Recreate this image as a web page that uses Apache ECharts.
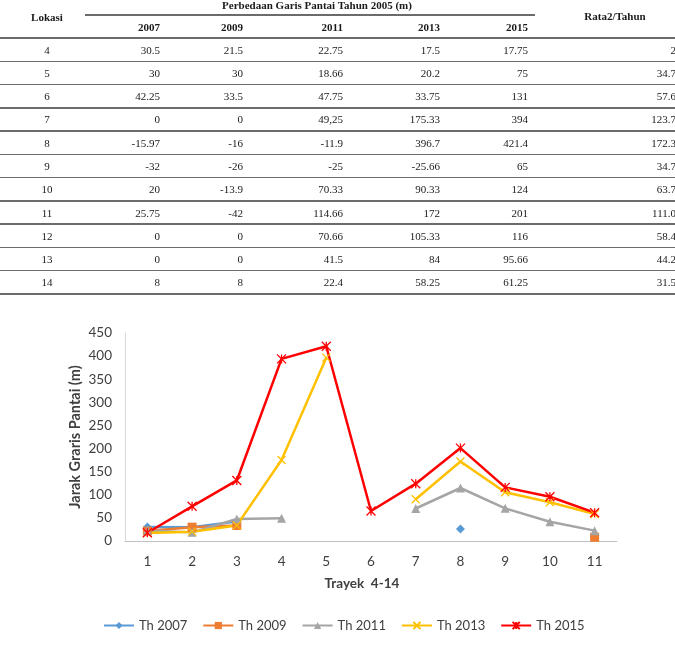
<!DOCTYPE html>
<html><head><meta charset="utf-8">
<script src="https://cdn.jsdelivr.net/npm/echarts@6.0.0/dist/echarts.min.js"></script>
<style>
html,body{margin:0;padding:0;background:#fff;width:675px;height:650px;overflow:hidden;}
#chart{position:absolute;left:0;top:0;width:675px;height:650px;}
#table{position:absolute;left:0;top:0;width:675px;height:300px;overflow:hidden;font-family:"Liberation Serif","Times New Roman",serif;font-size:11px;color:#1a1a1a;pointer-events:none;}
.c{position:absolute;line-height:14px;white-space:nowrap;}
.h{font-weight:bold;}
.ln{position:absolute;height:1.5px;background:#6b6b6b;}
</style>
</head><body>
<div id="chart"></div>
<div id="table"></div>
<script>
// ---- table data ----
const lokasi = ['4','5','6','7','8','9','10','11','12','13','14'];
const tYears = ['2007','2009','2011','2013','2015'];
const t2007 = ['30.5','30','42.25','0','-15.97','-32','20','25.75','0','0','8'];
const t2009 = ['21.5','30','33.5','0','-16','-26','-13.9','-42','0','0','8'];
const t2011 = ['22.75','18.66','47.75','49,25','-11.9','-25','70.33','114.66','70.66','41.5','22.4'];
const t2013 = ['17.5','20.2','33.75','175.33','396.7','-25.66','90.33','172','105.33','84','58.25'];
const t2015 = ['17.75','75','131','394','421.4','65','124','201','116','95.66','61.25'];
const rata  = ['2','34.7','57.6','123.7','172.3','34.7','63.7','111.0','58.4','44.2','31.5'];

// ---- chart data ----
const trayek = ['1','2','3','4','5','6','7','8','9','10','11'];
const th2007 = [30.5,30,42.25,null,null,null,null,25.75,null,null,8];
const th2009 = [21.5,30,33.5,null,null,null,null,null,null,null,8];
const th2011 = [22.75,18.66,47.75,49.25,null,null,70.33,114.66,70.66,41.5,22.4];
const th2013 = [17.5,20.2,33.75,175.33,396.7,null,90.33,172,105.33,84,58.25];
const th2015 = [17.75,75,131,394,421.4,65,124,201,116,95.66,61.25];
const seriesNames = ['Th 2007','Th 2009','Th 2011','Th 2013','Th 2015'];

// ---- build table ----
(function(){
  const T = document.getElementById('table');
  function cell(txt, cx, cy, align, bold){
    const d = document.createElement('div');
    d.className = 'c' + (bold ? ' h' : '');
    d.textContent = txt;
    d.style.top = (cy - 7) + 'px';
    if (align === 'right') { d.style.right = (675 - cx) + 'px'; }
    else { d.style.left = (cx - 150) + 'px'; d.style.width = '300px'; d.style.textAlign = 'center'; }
    T.appendChild(d);
  }
  function line(x1, x2, y){
    const d = document.createElement('div');
    d.className = 'ln';
    d.style.left = x1 + 'px'; d.style.width = (x2 - x1) + 'px'; d.style.top = (y - 0.75) + 'px';
    T.appendChild(d);
  }
  const colRight = [160, 243, 343, 440, 528];
  const rataRight = 676;
  const cols = [t2007, t2009, t2011, t2013, t2015];
  cell('Lokasi', 47, 17, 'center', true);
  cell('Perbedaan Garis Pantai Tahun 2005 (m)', 317, 5, 'center', true);
  cell('Rata2/Tahun', 615, 16, 'center', true);
  line(85, 535, 15);
  tYears.forEach((y, i) => cell(y, colRight[i], 27, 'right', true));
  const y0 = 38, rh = 23.27;
  line(0, 675, y0);
  lokasi.forEach((l, r) => {
    const cy = y0 + rh * (r + 0.5);
    cell(l, 47, cy, 'center', false);
    cols.forEach((c, i) => cell(c[r], colRight[i], cy, 'right', false));
    cell(rata[r], rataRight, cy, 'right', false);
    line(0, 675, y0 + rh * (r + 1));
  });
})();

// ---- chart ----
const chart = echarts.init(document.getElementById('chart'), null, {renderer: 'canvas'});
const FONT = 'Lato';
const colors = ['#5B9BD5', '#ED7D31', '#A5A5A5', '#FFC000', '#FF0000'];
const xPath = 'path://M0,0L10,10M10,0L0,10';
const starPath = 'path://M0,0L10,10M10,0L0,10M5,0L5,10';
function mk(name, data, color, symbol, size, stroke){
  return {
    name: name, type: 'line', data: data, color: color,
    symbol: symbol, symbolSize: size, symbolKeepAspect: true,
    connectNulls: false,
    lineStyle: {color: color, width: 2.5},
    itemStyle: stroke ? {color: 'rgba(0,0,0,0)', borderColor: color, borderWidth: 1.3} : {color: color, borderWidth: 0},
    emphasis: {disabled: true},
    animation: false
  };
}
chart.setOption({
  backgroundColor: '#fff',
  animation: false,
  grid: {left: 125, right: 58, top: 333, bottom: 109, containLabel: false},
  xAxis: {
    type: 'category', data: trayek, boundaryGap: true,
    axisLine: {lineStyle: {color: '#BFBFBF', width: 1}},
    axisTick: {show: false},
    axisLabel: {color: '#404040', fontSize: 13.5, fontFamily: FONT, margin: 14},
    name: 'Trayek  4-14', nameLocation: 'middle', nameGap: 36,
    nameTextStyle: {fontWeight: 'bold', fontSize: 13.5, color: '#404040', fontFamily: FONT, padding: [0, 18, 0, 0]}
  },
  yAxis: {
    type: 'value', min: 0, max: 450, interval: 50,
    splitLine: {show: false},
    axisLine: {show: true, lineStyle: {color: '#D9D9D9', width: 1}},
    axisTick: {show: false},
    axisLabel: {color: '#404040', fontSize: 13.5, fontFamily: FONT, margin: 13},
    name: 'Jarak Graris Pantai (m)', nameLocation: 'middle', nameGap: 42, nameRotate: 90,
    nameMoveOverlap: false,
    nameTextStyle: {fontWeight: 'bold', fontSize: 14.5, color: '#404040', fontFamily: FONT}
  },
  legend: {
    bottom: 13, left: 98, itemWidth: 30, itemHeight: 9, itemGap: 15,
    textStyle: {fontSize: 13, color: '#404040', fontFamily: FONT},
    data: seriesNames
  },
  series: [
    mk(seriesNames[0], th2007, colors[0], 'diamond', 9, false),
    mk(seriesNames[1], th2009, colors[1], 'rect', 9, false),
    mk(seriesNames[2], th2011, colors[2], 'triangle', 9, false),
    mk(seriesNames[3], th2013, colors[3], xPath, 8, true),
    mk(seriesNames[4], th2015, colors[4], starPath, 9, true)
  ]
});
</script>
</body></html>
